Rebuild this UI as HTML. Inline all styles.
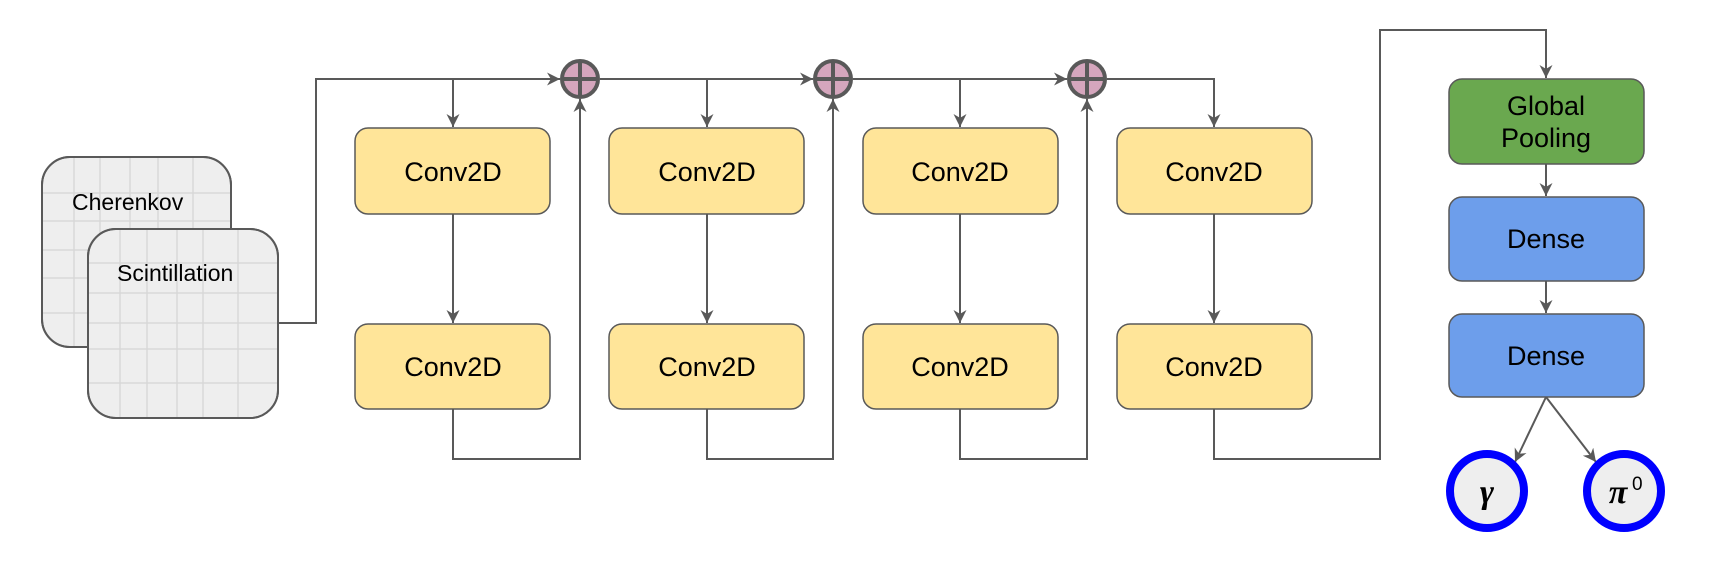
<!DOCTYPE html>
<html><head><meta charset="utf-8"><style>
body{margin:0;background:#fff;}
svg{display:block;font-family:"Liberation Sans",Arial,sans-serif;}
</style></head><body>
<svg width="1715" height="584" viewBox="0 0 1715 584" xmlns="http://www.w3.org/2000/svg">
<defs>
<marker id="a" viewBox="0 0 10 10" refX="10" refY="5" markerWidth="13" markerHeight="13" orient="auto" markerUnits="userSpaceOnUse">
<path d="M0,0 L10,5 L0,10 L3,5 Z" fill="#595959"/>
</marker>
</defs>
<g stroke="#595959" stroke-width="2" fill="none">
<rect x="42" y="157" width="189" height="190" rx="28" fill="#eeeeee"/>
<g stroke="#d8d8d8" stroke-width="1.5">
<line x1="74" y1="158" x2="74" y2="346"/><line x1="100" y1="158" x2="100" y2="346"/><line x1="130" y1="158" x2="130" y2="346"/><line x1="158" y1="158" x2="158" y2="346"/><line x1="193" y1="158" x2="193" y2="346"/>
<line x1="43" y1="193" x2="230" y2="193"/><line x1="43" y1="221" x2="230" y2="221"/><line x1="43" y1="250" x2="230" y2="250"/><line x1="43" y1="278" x2="230" y2="278"/><line x1="43" y1="313" x2="230" y2="313"/>
</g>
<rect x="42" y="157" width="189" height="190" rx="28"/>
<rect x="88" y="229" width="190" height="189" rx="28" fill="#eeeeee"/>
<g stroke="#d8d8d8" stroke-width="1.5">
<line x1="120" y1="230" x2="120" y2="417"/><line x1="147" y1="230" x2="147" y2="417"/><line x1="177" y1="230" x2="177" y2="417"/><line x1="203" y1="230" x2="203" y2="417"/><line x1="238" y1="230" x2="238" y2="417"/>
<line x1="89" y1="263" x2="277" y2="263"/><line x1="89" y1="293" x2="277" y2="293"/><line x1="89" y1="323" x2="277" y2="323"/><line x1="89" y1="349" x2="277" y2="349"/><line x1="89" y1="383" x2="277" y2="383"/>
</g>
<rect x="88" y="229" width="190" height="189" rx="28"/>

<polyline points="278,323 316,323 316,79 560,79" marker-end="url(#a)"/>
<line x1="453" y1="79" x2="453" y2="127" marker-end="url(#a)"/>
<line x1="453" y1="214" x2="453" y2="323" marker-end="url(#a)"/>
<polyline points="453,409 453,459 580,459 580,99" marker-end="url(#a)"/>
<line x1="600" y1="79" x2="813" y2="79" marker-end="url(#a)"/>
<line x1="707" y1="79" x2="707" y2="127" marker-end="url(#a)"/>
<line x1="707" y1="214" x2="707" y2="323" marker-end="url(#a)"/>
<polyline points="707,409 707,459 833,459 833,99" marker-end="url(#a)"/>
<line x1="853" y1="79" x2="1067" y2="79" marker-end="url(#a)"/>
<line x1="960" y1="79" x2="960" y2="127" marker-end="url(#a)"/>
<line x1="960" y1="214" x2="960" y2="323" marker-end="url(#a)"/>
<polyline points="960,409 960,459 1087,459 1087,99" marker-end="url(#a)"/>
<polyline points="1107,79 1214,79 1214,127" marker-end="url(#a)"/>
<line x1="1214" y1="214" x2="1214" y2="323" marker-end="url(#a)"/>
<polyline points="1214,409 1214,459 1380,459 1380,30 1546,30 1546,78" marker-end="url(#a)"/>
<line x1="1546" y1="164" x2="1546" y2="196" marker-end="url(#a)"/>
<line x1="1546" y1="281" x2="1546" y2="313" marker-end="url(#a)"/>
<line x1="1546" y1="397" x2="1515" y2="462" marker-end="url(#a)"/>
<line x1="1546" y1="397" x2="1596" y2="462" marker-end="url(#a)"/>
</g>
<g stroke="#595959" stroke-width="1.5" fill="#ffe599">
<rect x="355" y="128" width="195" height="86" rx="13"/>
<rect x="355" y="324" width="195" height="85" rx="13"/>
<rect x="609" y="128" width="195" height="86" rx="13"/>
<rect x="609" y="324" width="195" height="85" rx="13"/>
<rect x="863" y="128" width="195" height="86" rx="13"/>
<rect x="863" y="324" width="195" height="85" rx="13"/>
<rect x="1117" y="128" width="195" height="86" rx="13"/>
<rect x="1117" y="324" width="195" height="85" rx="13"/>
<rect x="1449" y="79" width="195" height="85" rx="13" fill="#6aa84f"/>
<rect x="1449" y="197" width="195" height="84" rx="13" fill="#6d9eeb"/>
<rect x="1449" y="314" width="195" height="83" rx="13" fill="#6d9eeb"/>
</g>
<g stroke="#595959" stroke-width="4" fill="#d5a6bd">
<circle cx="580" cy="79" r="18"/><line x1="562" y1="79" x2="598" y2="79"/><line x1="580" y1="61" x2="580" y2="97"/>
<circle cx="833" cy="79" r="18"/><line x1="815" y1="79" x2="851" y2="79"/><line x1="833" y1="61" x2="833" y2="97"/>
<circle cx="1087" cy="79" r="18"/><line x1="1069" y1="79" x2="1105" y2="79"/><line x1="1087" y1="61" x2="1087" y2="97"/>
</g>
<circle cx="1487" cy="491" r="37" fill="#eeeeee" stroke="#0000ff" stroke-width="8"/>
<circle cx="1624" cy="491" r="37" fill="#eeeeee" stroke="#0000ff" stroke-width="8"/>
<g fill="#000" font-size="23">
<text x="72" y="210">Cherenkov</text>
<text x="117" y="281">Scintillation</text>
</g>
<g fill="#000" font-size="27" text-anchor="middle">
<text x="453" y="181">Conv2D</text><text x="453" y="376">Conv2D</text>
<text x="707" y="181">Conv2D</text><text x="707" y="376">Conv2D</text>
<text x="960" y="181">Conv2D</text><text x="960" y="376">Conv2D</text>
<text x="1214" y="181">Conv2D</text><text x="1214" y="376">Conv2D</text>
<text x="1546" y="115">Global</text><text x="1546" y="147">Pooling</text>
<text x="1546" y="248">Dense</text><text x="1546" y="365">Dense</text>
</g>
<text x="1487" y="503" font-family="Liberation Serif,serif" font-size="34" font-weight="bold" font-style="italic" text-anchor="middle">γ</text>
<text x="1618" y="503" font-family="Liberation Serif,serif" font-size="34" font-weight="bold" font-style="italic" text-anchor="middle">π</text>
<text x="1632" y="490" font-size="19">0</text>
</svg>
</body></html>
